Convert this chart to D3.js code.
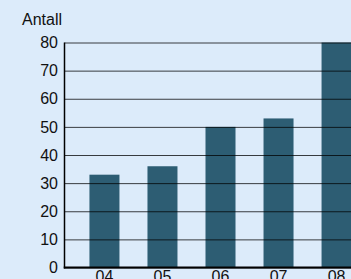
<!DOCTYPE html>
<html>
<head>
<meta charset="utf-8">
<script src="https://cdn.jsdelivr.net/npm/d3@7"></script>
<style>
  body { margin: 0; background: #dcebfa; }
  svg { display: block; }
</style>
</head>
<body>
<div id="chart"></div>
<script>
// data
var years = ["04", "05", "06", "07", "08"];
var counts = [33, 36, 50, 53, 80];
var yTicks = [0, 10, 20, 30, 40, 50, 60, 70, 80];

var width = 351, height = 279;
var plotLeft = 64.5, plotTop = 42.5, plotBottom = 267.5;
var fontSize = 16;

var svg = d3.select("#chart")
  .append("svg")
  .attr("width", width)
  .attr("height", height)
  .style("font-family", "Liberation Sans, Arial, sans-serif");

svg.append("rect")
  .attr("width", width).attr("height", height)
  .attr("fill", "#dcebfa");

var y = d3.scaleLinear().domain([0, 80]).range([plotBottom, plotTop]);

// band scale runs past the right edge, chart is cut off there
var x = d3.scaleBand()
  .domain(years)
  .range([plotLeft, plotLeft + 312])
  .paddingInner(0.483)
  .paddingOuter(0.43);

// bars
svg.append("g")
  .selectAll("rect")
  .data(counts)
  .enter()
  .append("rect")
  .attr("x", function(d, i) { return x(years[i]); })
  .attr("y", function(d) { return y(d); })
  .attr("width", x.bandwidth())
  .attr("height", function(d) { return y(0) - y(d); })
  .attr("fill", "#2d5d73");

// gridlines on top of bars
var grid = svg.append("g")
  .attr("transform", "translate(" + plotLeft + ",0)")
  .call(d3.axisLeft(y).tickValues(yTicks).tickSize(-(width - plotLeft)).tickFormat(""));
grid.select(".domain").remove();
grid.selectAll("line")
  .attr("stroke", "#000")
  .attr("stroke-opacity", 0.75)
  .attr("stroke-width", 1);

// y axis labels
var yAxis = svg.append("g")
  .attr("transform", "translate(" + plotLeft + ",0)")
  .call(d3.axisLeft(y).tickValues(yTicks).tickSize(0).tickPadding(6.5));
yAxis.select(".domain").remove();
yAxis.selectAll("text")
  .style("font-size", fontSize + "px")
  .attr("fill", "#111")
  .attr("font-family", "Liberation Sans, Arial, sans-serif");

// left axis line
svg.append("line")
  .attr("x1", plotLeft).attr("x2", plotLeft)
  .attr("y1", plotTop).attr("y2", plotBottom + 1)
  .attr("stroke", "#000").attr("stroke-width", 1.5);

// bottom axis line
svg.append("line")
  .attr("x1", plotLeft - 0.75).attr("x2", width)
  .attr("y1", plotBottom).attr("y2", plotBottom)
  .attr("stroke", "#000").attr("stroke-width", 2);

// x labels (cut off at the bottom)
var xAxis = svg.append("g")
  .attr("transform", "translate(0," + plotBottom + ")")
  .call(d3.axisBottom(x).tickSize(0).tickPadding(3));
xAxis.select(".domain").remove();
xAxis.selectAll("text")
  .style("font-size", fontSize + "px")
  .attr("fill", "#111")
  .attr("font-family", "Liberation Sans, Arial, sans-serif");

// axis title
svg.append("text")
  .attr("x", 22)
  .attr("y", 25)
  .text("Antall")
  .style("font-size", "16px")
  .attr("fill", "#111");
</script>
</body>
</html>
